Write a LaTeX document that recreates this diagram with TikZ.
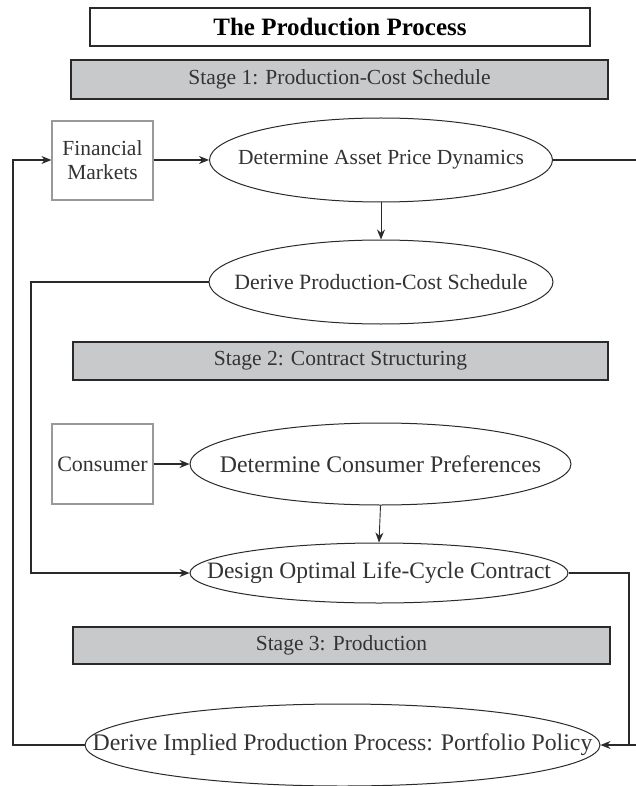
\documentclass[tikz,border=0pt]{standalone}
\usepackage{fontspec}
\setmainfont{Liberation Serif}
\usetikzlibrary{shapes.geometric,arrows.meta}
\definecolor{bargray}{HTML}{C8C9CB}
\definecolor{edgedark}{HTML}{2A2A2A}
\definecolor{txt}{HTML}{333333}
\definecolor{boxedge}{HTML}{999999}
\newcommand{\fsz}[1]{\fontsize{#1}{24}\selectfont}
\newcommand{\zb}[1]{\makebox[0pt]{#1}}
\begin{document}
\begin{tikzpicture}[x=1pt,y=-1pt,
  every node/.style={font=\fsz{21.5}, text=txt},
  titlebox/.style={draw=edgedark, line width=1.4pt, fill=white, font=\fontsize{25}{28}\selectfont\bfseries, text=black},
  stagebar/.style={draw=edgedark, line width=1.6pt, fill=bargray},
  srcbox/.style={draw=boxedge, line width=1.2pt, align=center, inner sep=0pt},
  proc/.style={ellipse, draw=edgedark, line width=1pt, inner sep=0pt},
  conn/.style={draw=edgedark, line width=1.2pt},
  arr/.style={conn, -{Stealth[length=10pt,width=8pt]}},
]
\useasboundingbox (0,0) rectangle (636,786);
% title and stage bars
\node[titlebox, minimum width=500pt, minimum height=38pt] (title) at (340,27) {The Production Process};
\node[stagebar, minimum width=537pt, minimum height=39pt] (st1) at (339.5,79.5) {Stage 1: Production-Cost Schedule};
\node[stagebar, minimum width=535pt, minimum height=38pt] (st2) at (340.5,361) {Stage 2: Contract Structuring};
\node[stagebar, minimum width=537pt, minimum height=37pt] (st3) at (341.5,645.5) {Stage 3: Production};
% source boxes
\node[srcbox, minimum width=101pt, minimum height=79pt] (fm) at (102.5,160.5) {Financial\\Markets};
\node[srcbox, minimum width=101pt, minimum height=80pt, font=\fsz{22}] (cons) at (102.5,464) {Consumer};
% process ellipses
\node[proc, minimum width=343pt, minimum height=84pt, font=\fsz{21.5}] (e1) at (381,160) {\zb{Determine Asset Price Dynamics}};
\node[proc, minimum width=344pt, minimum height=84pt, font=\fsz{21.8}] (e2) at (381,282) {\zb{Derive Production-Cost Schedule}};
\node[proc, minimum width=381pt, minimum height=82pt, font=\fsz{23.8}] (e3) at (380.5,464) {\zb{Determine Consumer Preferences}};
\node[proc, minimum width=378pt, minimum height=60pt, font=\fsz{23.5}] (e4) at (379,573) {\zb{Design Optimal Life-Cycle Contract}};
\node[proc, minimum width=515pt, minimum height=82pt, font=\fsz{23.8}] (e5) at (342.5,745) {\zb{Derive Implied Production Process: Portfolio Policy}};
% helper coordinates
\coordinate (l1) at (13,745);
\coordinate (l2) at (13,160);
\coordinate (r1) at (636,160);
\coordinate (m1) at (31,282);
\coordinate (m2) at (31,573);
\coordinate (q1) at (629,573);
\coordinate (q2) at (629,745);
\coordinate (q3) at (636,745);
% connectors
\draw[arr] (e5.west) -- (l1) -- (l2) -- (fm.west |- l2);
\draw[arr] (fm.east |- e1.west) -- (e1.west);
\draw[conn] (e1.east) -- (r1);
\draw[arr, line width=0.9pt] (e1.south) -- (e2.north);
\draw[arr] (e2.west) -- (m1) -- (m2) -- (e4.west);
\draw[arr] (cons.east) -- (e3.west);
\draw[arr, line width=0.9pt] (e3.south) -- (e4.north);
\draw[conn] (e4.east) -- (q1) -- (q2);
\draw[arr] (q3) -- (e5.east);
\end{tikzpicture}
\end{document}
